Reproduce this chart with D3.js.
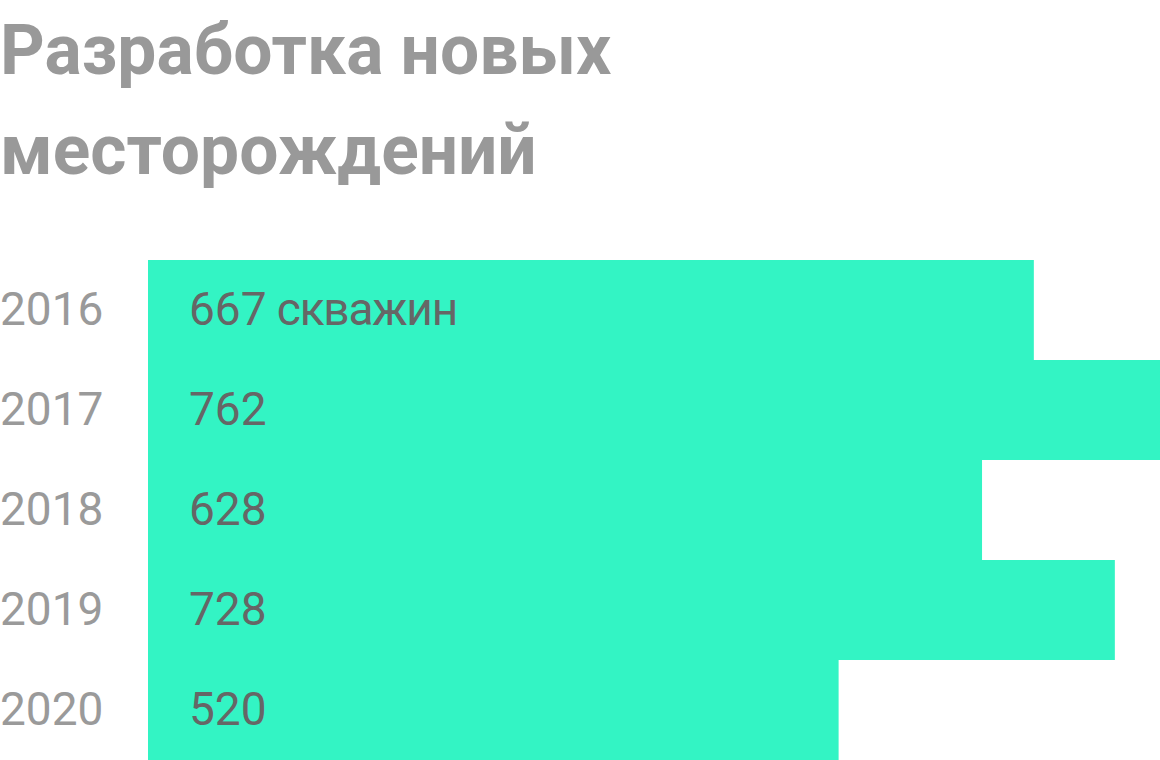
<!DOCTYPE html>
<html><head><meta charset="utf-8">
<script src="https://cdn.jsdelivr.net/npm/d3@7"></script>
<style>html,body{margin:0;padding:0;background:#fff;overflow:hidden}</style>
</head><body>
<svg id="chart" width="1160" height="760"></svg>
<script>
const titleLines = ["Разработка новых", "месторождений"];
const years = ["2016", "2017", "2018", "2019", "2020"];
const wells = [667, 762, 628, 728, 520];
const valueSuffix = [" скважин", "", "", "", ""];

const svg = d3.select("#chart");
const font = "Roboto, 'Noto Sans', sans-serif";

svg.selectAll("text.title").data(titleLines).join("text")
  .attr("class", "title")
  .attr("x", 0).attr("y", (d, i) => 74 + i * 100)
  .attr("font-family", font).attr("font-weight", 700)
  .attr("font-size", 69.5).attr("fill", "#999999")
  .text(d => d);

const x = d3.scaleLinear().domain([0, 762]).range([148, 1160]);
const y = d3.scaleBand().domain(years).range([260, 760]).padding(0);

svg.selectAll("rect.bar").data(wells).join("rect")
  .attr("class", "bar")
  .attr("x", x(0))
  .attr("y", (d, i) => y(years[i]))
  .attr("width", d => x(d) - x(0))
  .attr("height", y.bandwidth())
  .attr("fill", "#33F4C4");

svg.selectAll("text.year").data(years).join("text")
  .attr("class", "year")
  .attr("x", 0).attr("y", d => y(d) + y.bandwidth() / 2 + 15)
  .attr("font-family", font).attr("font-size", 46)
  .attr("fill", "#9a9a9a")
  .text(d => d);

const vals = svg.selectAll("text.val").data(wells).join("text")
  .attr("class", "val")
  .attr("x", 189).attr("y", (d, i) => y(years[i]) + y.bandwidth() / 2 + 15)
  .attr("font-family", font).attr("font-size", 46)
  .attr("fill", "#666666");
vals.append("tspan").text(d => d);
vals.append("tspan").attr("letter-spacing", -1.2).text((d, i) => valueSuffix[i]);
</script>
</body></html>
